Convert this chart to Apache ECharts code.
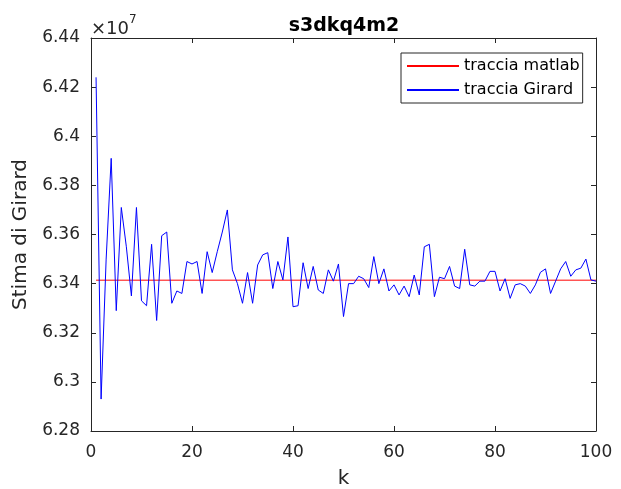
<!DOCTYPE html>
<html>
<head>
<meta charset="utf-8">
<script src="https://cdn.jsdelivr.net/npm/echarts@6/dist/echarts.min.js"></script>
<style>
  html, body { margin: 0; padding: 0; background: #fff; }
  #chart { width: 621px; height: 489px; }
</style>
</head>
<body>
<div id="chart"></div>
<script>
(function(){
    // valori in unita di 1e7
    var girardTrace = [
        6.424, 6.293, 6.350, 6.391, 6.329, 6.371, 6.355, 6.335, 6.371, 6.333,
        6.331, 6.356, 6.325, 6.3595, 6.361, 6.332, 6.337, 6.336, 6.349, 6.348,
        6.349, 6.336, 6.353, 6.3445, 6.353, 6.361, 6.370, 6.3456, 6.340, 6.332,
        6.3445, 6.332, 6.3476, 6.3517, 6.3526, 6.338, 6.349, 6.3415, 6.359, 6.3306,
        6.331, 6.3485, 6.338, 6.347, 6.3374, 6.336, 6.3456, 6.341, 6.348, 6.3266,
        6.340, 6.340, 6.343, 6.342, 6.3384, 6.351, 6.340, 6.346, 6.337, 6.3395,
        6.3354, 6.339, 6.3347, 6.3435, 6.3354, 6.355, 6.356, 6.3347, 6.3426, 6.342,
        6.347, 6.339, 6.338, 6.354, 6.3395, 6.339, 6.341, 6.341, 6.345, 6.345,
        6.337, 6.342, 6.334, 6.3395, 6.340, 6.339, 6.336, 6.3395, 6.3446, 6.346,
        6.336, 6.341, 6.346, 6.349, 6.343, 6.3456, 6.3463, 6.350, 6.3415, 6.341
    ];
    var matlabTrace = 6.3414;
    var kRange = [1, 100];
    var xTicks = [0, 100, 20];
    var yTicks = [6.28, 6.44, 0.02];

    var girardData = girardTrace.map(function(v, i) { return [i + 1, v]; });
    var matlabData = [[kRange[0], matlabTrace], [kRange[1], matlabTrace]];

    var font = 'DejaVu Sans';
    var axisColor = '#262626';

    function baseAxis(range, pos, showLabel) {
        return {
            type: 'value',
            position: pos,
            min: range[0],
            max: range[1],
            interval: range[2],
            axisLine: { show: true, onZero: false, lineStyle: { color: axisColor, width: 1 } },
            axisTick: { show: true, inside: true, length: 5, lineStyle: { color: axisColor } },
            axisLabel: { show: showLabel, color: axisColor, fontSize: 17, fontFamily: font },
            splitLine: { show: false }
        };
    }

    var xBottom = baseAxis(xTicks, 'bottom', true);
    xBottom.name = 'k';
    xBottom.nameLocation = 'middle';
    xBottom.nameGap = 38;
    xBottom.nameTextStyle = { color: axisColor, fontSize: 20, fontFamily: font };
    xBottom.axisLabel.margin = 13;

    var yLeft = baseAxis(yTicks, 'left', true);
    yLeft.name = 'Stima di Girard';
    yLeft.nameLocation = 'middle';
    yLeft.nameGap = 60;
    yLeft.nameTextStyle = { color: axisColor, fontSize: 20, fontFamily: font };
    yLeft.axisLabel.margin = 11;
    yLeft.axisLabel.formatter = function(v) { return String(parseFloat(v.toFixed(2))); };

    var dom = document.getElementById('chart');
    var myChart = echarts.init(dom);
    var option = {
        animation: false,
        backgroundColor: '#fff',
        grid: { left: 91, right: 25, top: 38, bottom: 58, containLabel: false, outerBoundsMode: 'none' },
        graphic: [
            {
                type: 'text', x: 344, y: 17,
                style: { text: 's3dkq4m2', fill: '#000', font: 'bold 19px "DejaVu Sans"', textAlign: 'center' }
            },
            {
                type: 'text', x: 91, y: 14,
                style: {
                    text: '{a|×10}{b|7}',
                    rich: {
                        a: { fontSize: 18, fontFamily: font, fill: axisColor, padding: [6, 0, 0, 0] },
                        b: { fontSize: 12, fontFamily: font, fill: axisColor, verticalAlign: 'top' }
                    }
                }
            }
        ],
        legend: {
            orient: 'vertical',
            left: 401,
            top: 53,
            itemWidth: 52,
            itemHeight: 14,
            itemGap: 8,
            padding: [5, 3, 5, 5],
            borderColor: axisColor,
            borderWidth: 1,
            backgroundColor: '#fff',
            itemStyle: { opacity: 0 },
            textStyle: { color: '#000', fontSize: 16, fontFamily: font },
            data: ['traccia matlab', 'traccia Girard']
        },
        xAxis: [xBottom, baseAxis(xTicks, 'top', false)],
        yAxis: [yLeft, baseAxis(yTicks, 'right', false)],
        series: [
            {
                name: 'traccia matlab',
                type: 'line',
                data: matlabData,
                symbol: 'none',
                lineStyle: { color: '#ff0000', width: 1 },
                itemStyle: { color: '#ff0000' }
            },
            {
                name: 'traccia Girard',
                type: 'line',
                data: girardData,
                symbol: 'none',
                lineStyle: { color: '#0000ff', width: 1 },
                itemStyle: { color: '#0000ff' }
            }
        ]
    };
    myChart.setOption(option);
})();
</script>
</body>
</html>
